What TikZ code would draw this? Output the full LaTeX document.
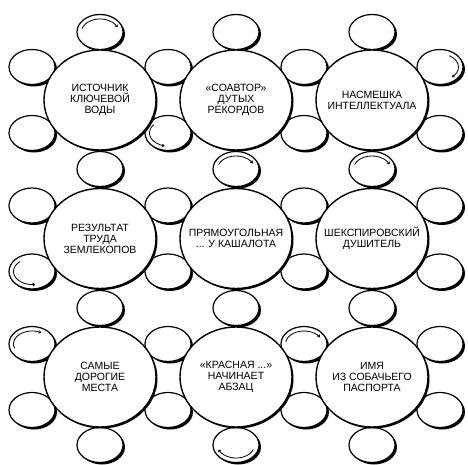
\documentclass[tikz,border=0pt]{standalone}
\usepackage{fontspec}
\setmainfont{Liberation Sans}
\usepackage{tikz}
\usetikzlibrary{arrows.meta, shapes.geometric, shadows}

\begin{document}
\begin{tikzpicture}[x=1pt, y=-1pt,
    cell/.style={ellipse, draw, fill=white, line width=1.4pt, inner sep=0pt,
        minimum width=112pt, minimum height=100pt,
        general shadow={fill=black, shadow xshift=1.5pt, shadow yshift=-1.5pt}},
    petal/.style={ellipse, draw, fill=white, line width=1.2pt, inner sep=0pt,
        minimum width=46pt, minimum height=35pt,
        general shadow={fill=black, shadow xshift=2pt, shadow yshift=-2pt}},
    txt/.style={align=center, font=\fontsize{10.5}{11}\selectfont, inner sep=0pt},
    hl/.style={line width=0.8pt, -{Straight Barb[length=1.8pt, width=2.8pt]}}]
    \useasboundingbox (0,0) rectangle (468,465);

    % petals round the cells
    \foreach \x [count=\i] in {32,168,304,440}
        \foreach \y [count=\j] in {67,133,205.5,271.5,344,410}
            \node[petal] (l\i\j) at (\x,\y) {};
    \foreach \x [count=\i] in {100,236,372}
        \foreach \y [count=\j] in {32,169,308,445}
            \node[petal] (v\i\j) at (\x,\y) {};

    % cells
    \node[cell] (e1) at (100,100) {};
    \node[cell] (e2) at (236,100) {};
    \node[cell] (e3) at (372,100) {};
    \node[cell] (e4) at (100,238.5) {};
    \node[cell] (e5) at (236,238.5) {};
    \node[cell] (e6) at (372,238.5) {};
    \node[cell] (e7) at (100,377) {};
    \node[cell] (e8) at (236,377) {};
    \node[cell] (e9) at (372,377) {};

    \node[txt] (t1) at (e1) {ИСТОЧНИК\\КЛЮЧЕВОЙ\\ВОДЫ};
    \node[txt] (t2) at (e2) {«СОАВТОР»\\ДУТЫХ\\РЕКОРДОВ};
    \node[txt] (t3) at (e3) {НАСМЕШКА\\ИНТЕЛЛЕКТУАЛА};
    \node[txt] (t4) at (e4) {РЕЗУЛЬТАТ\\ТРУДА\\ЗЕМЛЕКОПОВ};
    \node[txt] (t5) at (e5) {ПРЯМОУГОЛЬНАЯ\\... У КАШАЛОТА};
    \node[txt] (t6) at (e6) {ШЕКСПИРОВСКИЙ\\ДУШИТЕЛЬ};
    \node[txt] (t7) at (e7) {САМЫЕ\\ДОРОГИЕ\\МЕСТА};
    \node[txt] (t8) at (e8) {«КРАСНАЯ ...»\\НАЧИНАЕТ\\АБЗАЦ};
    \node[txt] (t9) at (e9) {ИМЯ\\ИЗ СОБАЧЬЕГО\\ПАСПОРТА};

    % marked petals
    \draw[hl] (v11.center) ++(165:18.5pt and 13pt) arc[start angle=165, end angle=20, x radius=18.5pt, y radius=13pt];
    \draw[hl] (l22.center) ++(140:18.5pt and 13pt) arc[start angle=140, end angle=260, x radius=18.5pt, y radius=13pt];
    \draw[hl] (l41.center) ++(60:18.5pt and 13pt) arc[start angle=60, end angle=-50, x radius=18.5pt, y radius=13pt];
    \draw[hl] (l14.center) ++(130:18.5pt and 13pt) arc[start angle=130, end angle=280, x radius=18.5pt, y radius=13pt];
    \draw[hl] (v22.center) ++(160:18.5pt and 13pt) arc[start angle=160, end angle=25, x radius=18.5pt, y radius=13pt];
    \draw[hl] (v32.center) ++(160:18.5pt and 13pt) arc[start angle=160, end angle=20, x radius=18.5pt, y radius=13pt];
    \draw[hl] (l15.center) ++(200:18.5pt and 13pt) arc[start angle=200, end angle=60, x radius=18.5pt, y radius=13pt];
    \draw[hl] (l35.center) ++(170:18.5pt and 13pt) arc[start angle=170, end angle=30, x radius=18.5pt, y radius=13pt];
    \draw[hl] (v24.center) ++(-20:18.5pt and 13pt) arc[start angle=-20, end angle=-160, x radius=18.5pt, y radius=13pt];
\end{tikzpicture}
\end{document}
